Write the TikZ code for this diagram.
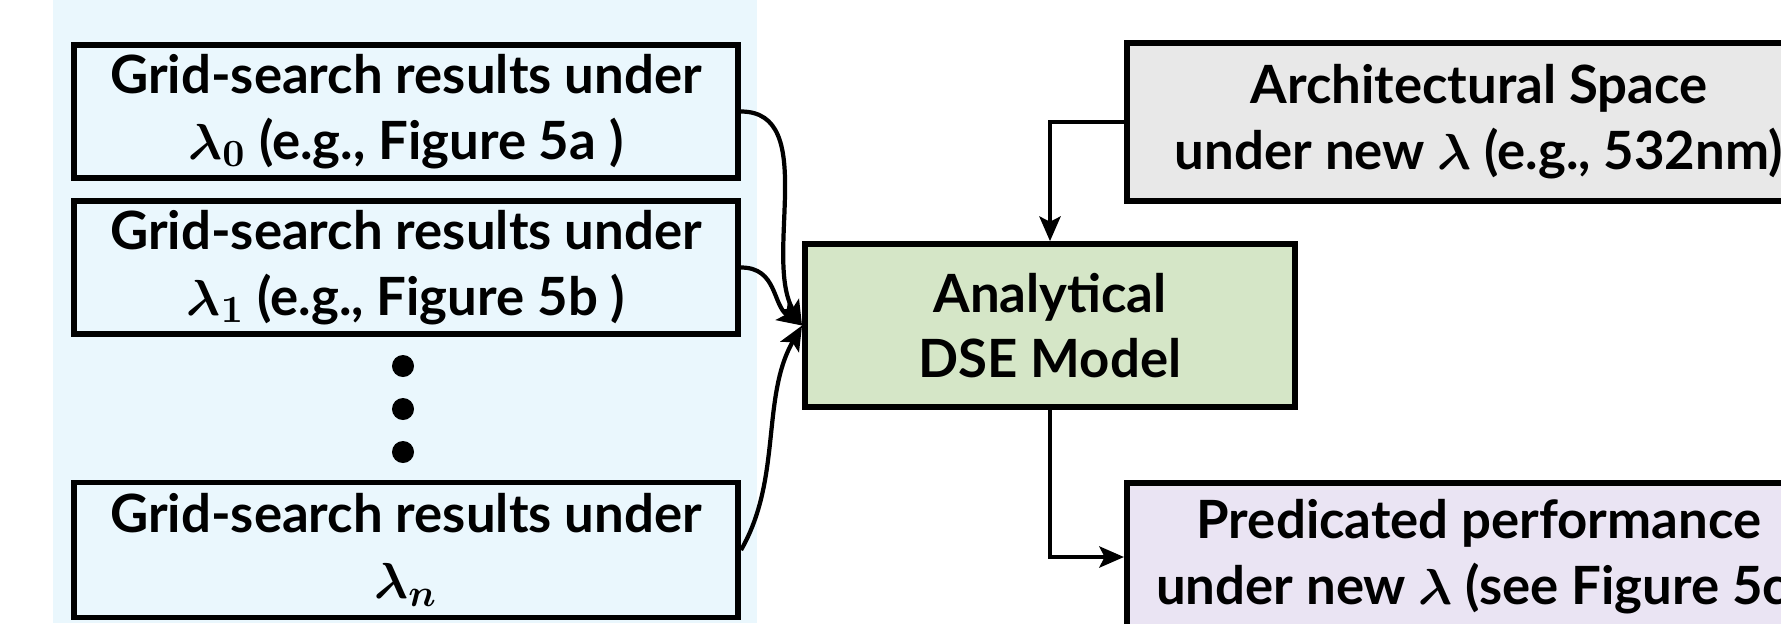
\documentclass[tikz,border=0pt]{standalone}
\usepackage{amsmath,amssymb}
\usepackage{fontspec}
\setmainfont{Lato}
\usepackage{tikz}
\usetikzlibrary{positioning,arrows.meta}

\definecolor{gridbg}{RGB}{234,247,253}
\definecolor{modelgreen}{RGB}{213,230,199}
\definecolor{archgray}{RGB}{232,232,232}
\definecolor{perfpurple}{RGB}{234,228,243}

\tikzset{
  flowbox/.style={draw=black,line width=1.6pt,align=center,inner sep=0pt,
    font=\bfseries\fontsize{15}{18.7}\selectfont},
  gridbox/.style={flowbox,fill=gridbg,minimum width=6.64cm,minimum height=1.33cm},
  link/.style={line width=1.2pt,-{Stealth[length=7pt,width=6pt,inset=1.5pt]}}
}

\newcommand{\lam}[1]{{\boldmath$\lambda_{#1}$}}

\begin{document}
\begin{tikzpicture}[x=0.01cm,y=-0.01cm]
\clip (0,0) rectangle (1781,623);
\fill[gridbg] (53,0) rectangle (757,623);

% grid-search inputs
\node[gridbox] (grid0) at (406,111.5) {Grid-search results under\\ \lam{0} (e.g., Figure 5a )};
\node[gridbox] (grid1) at (406,267.5) {Grid-search results under\\ \lam{1} (e.g., Figure 5b )};
\node[gridbox,minimum height=1.35cm] (gridn) at (406,550) {Grid-search results under\\ \lam{n}};
\foreach \y in {366,409,452}
  \fill (403,\y) circle (0.11cm);

% model and outputs
\node[flowbox,fill=modelgreen,minimum width=4.9cm,minimum height=1.63cm] (model) at (1050,325.5) {Analytical\\ DSE Model};
\node[flowbox,fill=archgray,minimum width=7.04cm,minimum height=1.58cm] (arch) at (1479,122) {Architectural Space\\ under new {\boldmath$\lambda$} (e.g., 532nm)};
\node[flowbox,fill=perfpurple,minimum width=7.04cm,minimum height=1.48cm] (perf) at (1479,557) {Predicated performance\\ under new {\boldmath$\lambda$} (see Figure 5c)};

\draw[link] (grid0.east) to[out=0,in=120,looseness=0.9] (model.west);
\draw[link] (grid1.east) to[out=0,in=145,looseness=1.1] (model.west);
\draw[link] (gridn.east) to[out=60,in=240,looseness=0.9] (model.west);
\draw[link] (arch.west) -| (model.north);
\draw[link] (model.south) |- (perf.west);
\end{tikzpicture}
\end{document}
